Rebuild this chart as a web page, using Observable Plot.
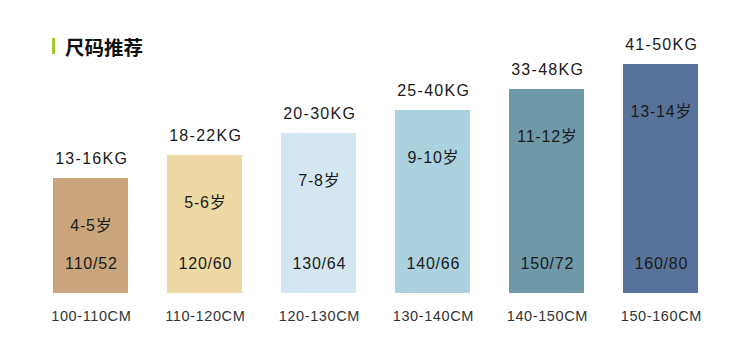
<!DOCTYPE html>
<html>
<head>
<meta charset="utf-8">
<script src="https://cdn.jsdelivr.net/npm/d3@7"></script>
<script src="https://cdn.jsdelivr.net/npm/@observablehq/plot@0.6"></script>
<style>
  html, body { margin: 0; padding: 0; background: #fff; }
  #wrap { position: relative; width: 750px; height: 364px; overflow: hidden; }
  #title { position: absolute; left: 52px; top: 34px; height: 24px; display: flex; align-items: center;
           font-family: "Noto Sans CJK SC", sans-serif; font-weight: 700; font-size: 19.5px; color: #111; }
  #title .mark { display: inline-block; width: 3px; height: 16px; background: #9fcd2f; margin-right: 10px; }
</style>
</head>
<body>
<div id="wrap">
  <div id="title"><span class="mark"></span><span>尺码推荐</span></div>
  <div id="chart"></div>
</div>
<script>
const heights = ["100-110CM", "110-120CM", "120-130CM", "130-140CM", "140-150CM", "150-160CM"];
const weights = ["13-16KG", "18-22KG", "20-30KG", "25-40KG", "33-48KG", "41-50KG"];
const ages = ["4-5岁", "5-6岁", "7-8岁", "9-10岁", "11-12岁", "13-14岁"];
const sizes = ["110/52", "120/60", "130/64", "140/66", "150/72", "160/80"];
const barValues = [115, 138, 160, 183, 204, 229];
const barColors = ["#c8a57b", "#eed8a3", "#d4e7f1", "#acd2e0", "#6f98a9", "#58739a"];

const rows = heights.map((h, i) => ({h, w: weights[i], a: ages[i], s: sizes[i], v: barValues[i]}));
const font = "'Liberation Sans', Arial, 'Noto Sans CJK SC', sans-serif";

const chart = Plot.plot({
  width: 750,
  height: 364,
  marginTop: 0,
  marginBottom: 71,
  marginLeft: 13,
  marginRight: 12,
  style: {fontFamily: font, background: "#fff", color: "#222"},
  x: {domain: heights, padding: 0.344, axis: null},
  y: {domain: [0, 293], axis: null},
  color: {domain: heights, range: barColors},
  marks: [
    Plot.barY(rows, {x: "h", y: "v", fill: "h"}),
    Plot.text(rows, {x: "h", y: "v", text: "w", dy: -19.5, dx: 0.7, fontSize: 16, fill: "#1a1a1a", lineAnchor: "middle"}),
    Plot.text(rows, {x: "h", y: "v", text: "a", dy: 47, dx: 0.4, fontSize: 16, fill: "#1a1a1a", lineAnchor: "middle"}),
    Plot.text(rows, {x: "h", y: 0, text: "s", dy: -30, dx: 0.4, fontSize: 16, fill: "#1a1a1a", lineAnchor: "middle"}),
    Plot.axisX({domain: heights, tickSize: 0, tickPadding: 17, dx: 0.3, fontSize: 14.5, label: null, fill: "#333"})
  ]
});
const spacing = [1.3, 0.8, 0.8];
d3.select(chart).selectAll('g[aria-label="text"]').each(function (_, i) {
  d3.select(this).attr("letter-spacing", spacing[i] + "px");
});
d3.select(chart).selectAll('g[aria-label="x-axis tick label"]').attr("letter-spacing", "0.6px");
document.getElementById("chart").appendChild(chart);
</script>
</body>
</html>
